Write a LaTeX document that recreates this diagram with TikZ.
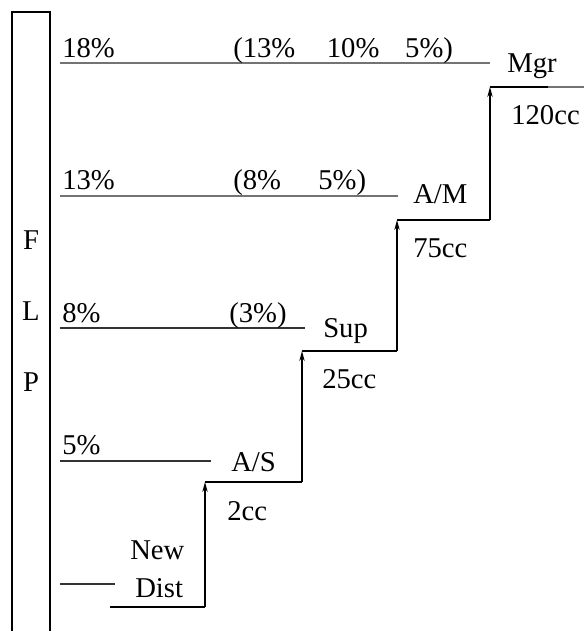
\documentclass[tikz,border=0pt]{standalone}
\usepackage{fontspec}
\setmainfont{Liberation Serif}
\usetikzlibrary{arrows.meta,positioning}

\tikzset{
  lbl/.style={anchor=base west, inner sep=0pt, font=\fontsize{21.5}{25}\selectfont},
  level/.style={line width=0.9pt, black!55},
  lowlevel/.style={line width=0.9pt, black!80},
  stair/.style={line width=0.9pt, black},
  rise/.style={stair, -{Stealth[length=7.5pt,width=4pt]}}
}

\begin{document}
\begin{tikzpicture}[x=0.75pt,y=-0.75pt]
  \useasboundingbox (0,0) rectangle (584,631);

  % FLP column
  \draw[line width=0.9pt] (12,631) -- (12,12) -- (50,12) -- (50,631);
  \node[font=\fontsize{21.5}{25}\selectfont] (f) at (31,240) {F};
  \node[font=\fontsize{21.5}{25}\selectfont] (l) at (31,311) {L};
  \node[font=\fontsize{21.5}{25}\selectfont] (p) at (31,382) {P};

  % Levels
  \draw[level] (60,63) -- (490,63);
  \node[lbl] (p18) at (62,58) {18\%};
  \node[lbl] (s18) at (233,58) {(13\%\hspace{1.1em}10\%\hspace{0.9em}5\%)};

  \draw[level] (60,196) -- (398,196);
  \node[lbl] (p13) at (62,190) {13\%};
  \node[lbl] (s13) at (233,190) {(8\%\hspace{1.3em}5\%)};

  \draw[lowlevel] (60,328) -- (305,328);
  \node[lbl] (p8) at (62,322) {8\%};
  \node[lbl] (s8) at (229,322) {(3\%)};

  \draw[lowlevel] (60,461) -- (211,461);
  \node[lbl] (p5) at (62,454) {5\%};

  \draw[lowlevel] (60,584) -- (115,584);

  % Career steps
  \coordinate (d0) at (110,607);
  \coordinate (d1) at (205,607);
  \coordinate (as) at (205,482);
  \coordinate (as1) at (302,482);
  \coordinate (sup) at (302,351);
  \coordinate (sup1) at (397,351);
  \coordinate (am) at (397,220);
  \coordinate (am1) at (490,220);
  \coordinate (mgr) at (490,87);
  \coordinate (mgr1) at (548,87);
  \coordinate (mgr2) at (584,87);

  \draw[stair] (d0) -- (d1);
  \draw[rise] (d1) -- (as);
  \draw[stair] (as) -- (as1);
  \draw[rise] (as1) -- (sup);
  \draw[stair] (sup) -- (sup1);
  \draw[rise] (sup1) -- (am);
  \draw[stair] (am) -- (am1);
  \draw[rise] (am1) -- (mgr);
  \draw[stair] (mgr) -- (mgr1);
  \draw[level] (mgr1) -- (mgr2);

  \node[lbl] (new) at (130,559) {New};
  \node[lbl] (dist) at (135,597) {Dist};
  \node[lbl] (asl) at (231,471) {A/S};
  \node[lbl] (c2) at (227,520) {2cc};
  \node[lbl] (supl) at (323,337) {Sup};
  \node[lbl] (c25) at (322,388) {25cc};
  \node[lbl] (aml) at (413,203) {A/M};
  \node[lbl] (c75) at (413,257) {75cc};
  \node[lbl] (mgrl) at (507,73) {Mgr};
  \node[lbl] (c120) at (511,125) {120cc};
\end{tikzpicture}
\end{document}
